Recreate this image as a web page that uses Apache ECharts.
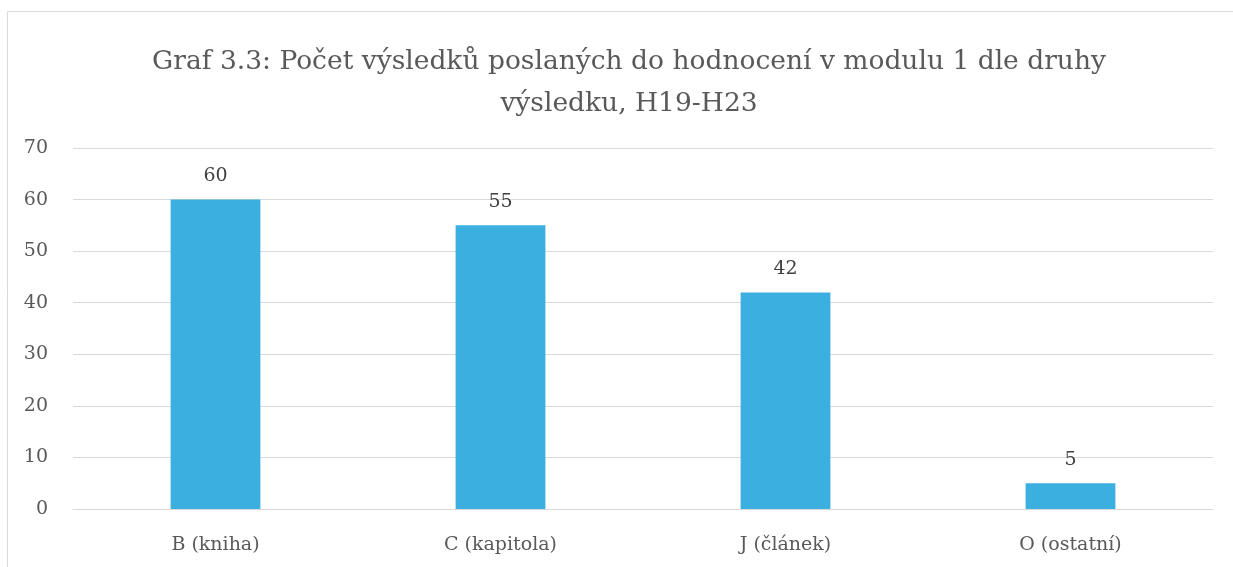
<!DOCTYPE html>
<html>
<head>
<meta charset="utf-8">
<script src="https://cdn.jsdelivr.net/npm/echarts@6/dist/echarts.min.js"></script>
<style>
  html, body { margin: 0; padding: 0; background: #fff; }
  #graph_1 { width: 1233px; height: 567px; }
</style>
</head>
<body>
<div id="graph_1"></div>
<script>
// Graf 3.3 – počet výsledků dle druhu
var categories = ['B (kniha)', 'C (kapitola)', 'J (článek)', 'O (ostatní)'];
var values = [60, 55, 42, 5];
var yTicks = [0, 10, 20, 30, 40, 50, 60, 70];

var myChart = echarts.init(document.getElementById('graph_1'));

var textFont = 'DejaVu Serif';

option = {
    backgroundColor: '#fff',
    animation: false,
    title: {
        text: 'Graf 3.3: Počet výsledků poslaných do hodnocení v modulu 1 dle druhy\nvýsledku, H19-H23',
        left: 624,
        top: 36,
        textAlign: 'center',
        textStyle: {
            color: '#595959',
            fontFamily: textFont,
            fontWeight: 'normal',
            fontSize: 26.5,
            lineHeight: 42
        }
    },
    graphic: [
        {
            type: 'polyline',
            shape: { points: [[7.5, 567], [7.5, 11.5], [1233, 11.5]] },
            style: { stroke: '#d9d9d9', lineWidth: 1, fill: null }
        }
    ],
    grid: {
        left: 73,
        right: 20,
        top: 148,
        bottom: 58
    },
    xAxis: {
        type: 'category',
        data: categories,
        axisLine: { lineStyle: { color: '#d9d9d9', width: 1 } },
        axisTick: { show: false },
        axisLabel: {
            color: '#595959',
            fontFamily: textFont,
            fontSize: 19,
            margin: 27
        }
    },
    yAxis: {
        type: 'value',
        min: yTicks[0],
        max: yTicks[yTicks.length - 1],
        interval: 10,
        axisLine: { show: false },
        axisTick: { show: false },
        splitLine: { lineStyle: { color: '#d9d9d9', width: 1 } },
        axisLabel: {
            color: '#595959',
            fontFamily: textFont,
            fontSize: 19,
            margin: 25
        }
    },
    series: [
        {
            type: 'bar',
            data: values,
            barWidth: '31.5%',
            itemStyle: { color: '#3bafe0' },
            label: {
                show: true,
                position: 'top',
                distance: 14,
                color: '#404040',
                fontFamily: textFont,
                fontSize: 19
            }
        }
    ]
};

myChart.setOption(option);
</script>
</body>
</html>
